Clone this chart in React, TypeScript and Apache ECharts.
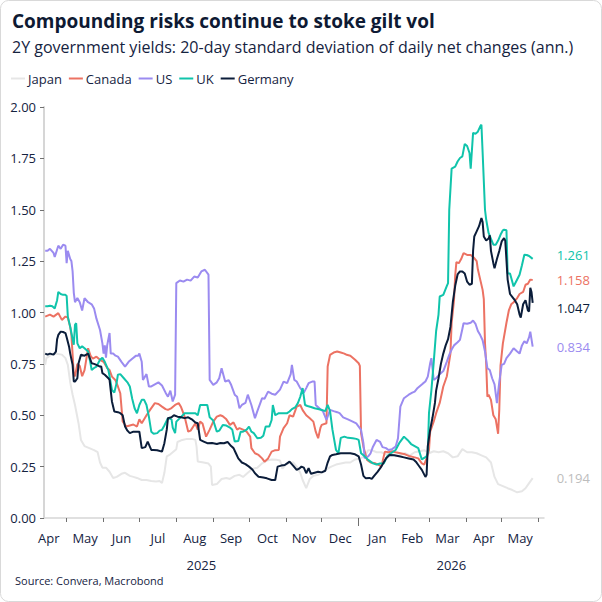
import React, { useEffect, useRef } from "react";
import * as echarts from "echarts";

// x values: days since 1 Apr 2025; y values: annualised 20-day std dev
const JAPAN: [number, number][] = [[12,0.745],[13,0.778],[16,0.79],[20,0.80],[26,0.795],[29,0.778],[31,0.745],[33,0.66],[35,0.60],[37,0.55],[40,0.46],[42,0.38],[45,0.35],[49,0.34],[53,0.33],[56,0.32],[58,0.27],[60,0.245],[63,0.245],[66,0.225],[69,0.195],[72,0.2],[76,0.215],[79,0.22],[83,0.205],[86,0.2],[89,0.195],[93,0.185],[97,0.185],[101,0.18],[105,0.178],[108,0.18],[110,0.17],[112,0.22],[114,0.3],[117,0.31],[120,0.325],[122,0.335],[123,0.37],[127,0.38],[131,0.385],[135,0.385],[138,0.38],[139,0.347],[140,0.275],[145,0.27],[149,0.265],[151,0.25],[152,0.161],[156,0.165],[160,0.19],[164,0.195],[167,0.19],[171,0.205],[175,0.21],[178,0.2],[182,0.22],[186,0.24],[190,0.245],[194,0.266],[198,0.28],[202,0.285],[206,0.283],[209,0.28],[211,0.24],[214,0.26],[217,0.27],[220,0.27],[223,0.25],[226,0.22],[228,0.185],[231,0.145],[234,0.19],[237,0.205],[241,0.21],[245,0.225],[249,0.24],[252,0.25],[256,0.26],[260,0.265],[264,0.27],[268,0.27],[272,0.285],[276,0.29],[280,0.3],[283,0.33],[286,0.33],[290,0.32],[294,0.32],[298,0.31],[302,0.315],[306,0.30],[310,0.305],[314,0.315],[318,0.305],[322,0.32],[326,0.325],[330,0.33],[334,0.315],[338,0.325],[342,0.32],[346,0.325],[350,0.315],[354,0.295],[358,0.3],[362,0.335],[366,0.32],[370,0.32],[374,0.315],[378,0.305],[382,0.295],[386,0.27],[389,0.2],[392,0.165],[396,0.155],[400,0.145],[404,0.136],[408,0.125],[412,0.13],[415,0.145],[418,0.17],[421,0.194]];

const CANADA: [number, number][] = [[12,0.98],[14,0.985],[16,0.99],[19,0.98],[23,0.997],[26,0.964],[29,0.98],[31,0.975],[33,0.93],[34,0.89],[36,0.70],[37,0.69],[39,0.75],[41,0.74],[43,0.69],[45,0.72],[48,0.826],[50,0.79],[52,0.775],[55,0.785],[58,0.77],[61,0.76],[64,0.73],[66,0.72],[68,0.688],[71,0.67],[73,0.64],[75,0.607],[77,0.47],[80,0.445],[83,0.45],[86,0.455],[89,0.445],[91,0.48],[93,0.461],[97,0.50],[100,0.526],[104,0.559],[107,0.555],[110,0.542],[113,0.53],[115,0.526],[118,0.535],[121,0.55],[124,0.559],[126,0.54],[129,0.493],[132,0.42],[134,0.425],[138,0.461],[140,0.43],[142,0.469],[144,0.46],[147,0.396],[150,0.43],[153,0.469],[156,0.493],[159,0.50],[161,0.495],[164,0.48],[167,0.453],[170,0.465],[173,0.43],[175,0.437],[178,0.43],[181,0.42],[184,0.396],[185,0.34],[188,0.315],[191,0.307],[194,0.29],[196,0.274],[199,0.29],[202,0.323],[205,0.33],[208,0.331],[209,0.396],[212,0.437],[215,0.461],[217,0.50],[220,0.493],[223,0.542],[226,0.55],[228,0.525],[231,0.50],[234,0.485],[237,0.469],[239,0.42],[241,0.388],[243,0.44],[244,0.453],[248,0.461],[249,0.737],[251,0.794],[254,0.805],[257,0.81],[260,0.805],[263,0.80],[265,0.794],[268,0.79],[270,0.78],[272,0.77],[275,0.753],[276,0.74],[277,0.413],[279,0.347],[282,0.283],[285,0.27],[289,0.266],[292,0.258],[294,0.25],[297,0.323],[300,0.32],[303,0.325],[306,0.32],[310,0.315],[314,0.31],[318,0.30],[322,0.295],[325,0.29],[328,0.266],[330,0.26],[332,0.29],[334,0.33],[335,0.42],[338,0.47],[340,0.51],[343,0.56],[346,0.64],[349,0.69],[352,0.80],[353,0.95],[355,1.06],[356,1.18],[357,1.245],[359,1.24],[361,1.26],[363,1.289],[366,1.28],[369,1.28],[372,1.265],[374,1.25],[375,1.21],[377,1.16],[379,1.11],[380,1.065],[381,0.85],[382,0.75],[383,0.59],[384,0.60],[386,0.575],[388,0.50],[390,0.48],[392,0.41],[393,0.53],[394,0.74],[396,0.85],[399,0.95],[401,1.01],[403,1.04],[405,1.05],[408,1.07],[410,1.09],[413,1.10],[415,1.135],[417,1.14],[419,1.16],[421,1.158]];

const US: [number, number][] = [[12,1.30],[14,1.30],[16,1.31],[19,1.29],[20,1.27],[23,1.325],[25,1.31],[27,1.33],[29,1.325],[30,1.24],[31,1.30],[33,1.26],[34,1.25],[35,1.20],[36,1.096],[37,1.05],[39,1.07],[41,1.05],[43,1.01],[45,1.07],[48,1.05],[51,1.04],[53,1.02],[55,0.97],[58,0.915],[60,0.85],[61,0.80],[62,0.84],[63,0.78],[64,0.84],[66,0.90],[67,0.80],[69,0.80],[71,0.79],[73,0.785],[76,0.76],[79,0.737],[82,0.76],[85,0.775],[88,0.789],[90,0.79],[91,0.80],[93,0.76],[94,0.672],[97,0.70],[99,0.64],[101,0.64],[104,0.65],[107,0.66],[110,0.645],[113,0.61],[115,0.59],[117,0.62],[119,0.567],[121,0.60],[122,1.143],[125,1.156],[128,1.15],[131,1.16],[134,1.155],[137,1.175],[140,1.17],[143,1.20],[146,1.208],[149,1.184],[150,0.672],[153,0.648],[156,0.66],[158,0.68],[160,0.729],[163,0.664],[166,0.67],[168,0.648],[171,0.60],[173,0.59],[175,0.534],[177,0.55],[180,0.56],[182,0.60],[185,0.55],[188,0.486],[190,0.52],[194,0.583],[196,0.58],[199,0.615],[202,0.605],[205,0.60],[209,0.625],[212,0.664],[215,0.656],[218,0.70],[219,0.745],[221,0.672],[223,0.664],[226,0.632],[229,0.61],[231,0.632],[233,0.656],[236,0.664],[238,0.664],[239,0.55],[242,0.534],[245,0.52],[248,0.477],[251,0.526],[254,0.52],[257,0.515],[259,0.51],[262,0.49],[266,0.48],[270,0.469],[273,0.46],[275,0.445],[277,0.429],[279,0.364],[280,0.291],[283,0.30],[285,0.315],[287,0.347],[290,0.38],[293,0.37],[295,0.345],[298,0.34],[300,0.331],[303,0.335],[306,0.347],[308,0.388],[310,0.542],[313,0.583],[317,0.60],[320,0.61],[322,0.615],[324,0.63],[326,0.64],[329,0.655],[331,0.664],[333,0.688],[335,0.753],[336,0.778],[338,0.672],[340,0.68],[343,0.70],[346,0.715],[349,0.761],[351,0.794],[353,0.82],[355,0.84],[358,0.855],[360,0.867],[362,0.92],[363,0.948],[366,0.945],[369,0.95],[371,0.961],[373,0.945],[375,0.91],[377,0.89],[379,0.865],[381,0.81],[383,0.729],[385,0.72],[387,0.68],[389,0.65],[391,0.559],[393,0.664],[395,0.745],[397,0.75],[399,0.778],[402,0.80],[405,0.826],[408,0.81],[410,0.80],[412,0.84],[414,0.86],[416,0.85],[418,0.88],[419,0.907],[421,0.834]];

const UK: [number, number][] = [[12,1.03],[14,1.03],[16,1.033],[18,1.03],[20,1.02],[22,1.06],[23,1.10],[25,1.09],[27,1.086],[29,1.086],[30,1.08],[31,0.98],[33,0.93],[34,0.90],[35,0.87],[36,0.843],[37,0.94],[38,0.948],[39,0.85],[41,0.826],[43,0.835],[45,0.826],[48,0.81],[50,0.753],[51,0.72],[53,0.73],[55,0.737],[58,0.77],[60,0.78],[62,0.76],[65,0.72],[66,0.69],[68,0.623],[70,0.61],[72,0.66],[73,0.697],[75,0.70],[78,0.68],[81,0.66],[83,0.64],[85,0.58],[87,0.534],[89,0.51],[91,0.55],[93,0.575],[95,0.575],[97,0.55],[99,0.493],[101,0.42],[103,0.41],[106,0.413],[108,0.425],[110,0.429],[112,0.45],[115,0.486],[118,0.48],[119,0.44],[121,0.413],[122,0.469],[125,0.486],[129,0.51],[132,0.51],[135,0.51],[138,0.51],[140,0.50],[142,0.55],[144,0.55],[146,0.55],[148,0.55],[150,0.49],[153,0.475],[156,0.42],[158,0.425],[161,0.453],[164,0.45],[167,0.44],[169,0.429],[171,0.372],[174,0.375],[176,0.42],[178,0.42],[181,0.43],[183,0.445],[185,0.42],[187,0.413],[190,0.388],[193,0.39],[195,0.40],[197,0.445],[200,0.445],[202,0.477],[203,0.55],[205,0.50],[208,0.51],[212,0.51],[215,0.51],[217,0.518],[219,0.53],[222,0.54],[224,0.559],[226,0.59],[228,0.632],[230,0.55],[232,0.545],[235,0.54],[238,0.534],[241,0.53],[244,0.526],[247,0.52],[249,0.55],[251,0.52],[253,0.43],[256,0.331],[258,0.315],[260,0.39],[263,0.396],[266,0.39],[270,0.388],[273,0.385],[275,0.38],[277,0.315],[280,0.30],[283,0.283],[287,0.266],[290,0.26],[293,0.265],[296,0.265],[299,0.30],[302,0.315],[306,0.331],[309,0.364],[311,0.38],[313,0.396],[316,0.38],[319,0.36],[322,0.35],[325,0.34],[328,0.285],[332,0.30],[333,0.32],[334,0.51],[336,0.62],[338,0.76],[340,0.91],[342,0.99],[343,1.078],[346,1.086],[349,1.13],[350,1.143],[351,1.50],[353,1.70],[356,1.71],[358,1.735],[360,1.752],[362,1.76],[364,1.82],[366,1.81],[368,1.776],[369,1.70],[371,1.874],[373,1.87],[375,1.88],[377,1.906],[378,1.914],[379,1.78],[381,1.50],[382,1.452],[384,1.387],[388,1.33],[390,1.33],[392,1.35],[394,1.378],[396,1.40],[397,1.403],[399,1.40],[400,1.19],[402,1.19],[405,1.127],[407,1.15],[410,1.184],[412,1.23],[414,1.281],[416,1.28],[418,1.275],[421,1.261]];

const GERMANY: [number, number][] = [[12,0.80],[14,0.795],[16,0.80],[19,0.795],[21,0.81],[22,0.87],[23,0.891],[25,0.907],[27,0.905],[29,0.90],[30,0.88],[32,0.835],[33,0.80],[35,0.745],[36,0.664],[37,0.664],[39,0.68],[40,0.753],[42,0.794],[45,0.79],[48,0.80],[50,0.77],[51,0.753],[53,0.75],[55,0.745],[58,0.737],[59,0.737],[60,0.705],[62,0.697],[65,0.68],[66,0.672],[68,0.567],[70,0.518],[73,0.515],[75,0.51],[77,0.50],[79,0.445],[81,0.425],[83,0.413],[86,0.42],[88,0.42],[91,0.42],[93,0.34],[96,0.345],[98,0.372],[101,0.331],[103,0.331],[106,0.33],[110,0.323],[112,0.364],[114,0.43],[115,0.486],[118,0.49],[120,0.50],[123,0.493],[126,0.49],[129,0.486],[132,0.49],[135,0.48],[138,0.465],[140,0.461],[142,0.38],[145,0.372],[148,0.364],[152,0.365],[156,0.36],[159,0.365],[162,0.364],[165,0.37],[168,0.35],[170,0.34],[172,0.315],[174,0.29],[177,0.27],[180,0.262],[183,0.25],[186,0.235],[188,0.218],[191,0.201],[195,0.197],[198,0.193],[202,0.185],[205,0.185],[207,0.25],[210,0.255],[213,0.258],[215,0.266],[217,0.274],[220,0.255],[223,0.234],[225,0.24],[227,0.25],[229,0.245],[231,0.218],[233,0.242],[235,0.215],[238,0.22],[241,0.225],[244,0.222],[247,0.23],[249,0.27],[251,0.30],[253,0.307],[256,0.31],[260,0.315],[264,0.315],[268,0.315],[272,0.31],[275,0.30],[277,0.26],[279,0.205],[281,0.193],[284,0.195],[286,0.19],[288,0.205],[291,0.226],[294,0.25],[298,0.291],[301,0.307],[305,0.305],[309,0.30],[313,0.295],[317,0.29],[321,0.285],[323,0.274],[325,0.258],[328,0.234],[331,0.2],[332,0.21],[333,0.35],[335,0.43],[337,0.49],[339,0.56],[340,0.62],[342,0.68],[344,0.75],[346,0.80],[348,0.84],[350,0.87],[352,0.93],[354,1.05],[356,1.13],[358,1.185],[360,1.20],[362,1.20],[364,1.19],[366,1.15],[368,1.135],[370,1.14],[371,1.30],[372,1.37],[374,1.395],[376,1.42],[378,1.46],[379,1.44],[380,1.37],[382,1.35],[384,1.36],[385,1.375],[386,1.30],[388,1.24],[389,1.215],[391,1.26],[393,1.30],[395,1.346],[397,1.362],[398,1.35],[400,1.16],[402,1.09],[404,1.075],[406,1.06],[408,1.04],[410,0.99],[411,0.975],[413,1.04],[415,1.06],[417,1.01],[418,1.005],[419,1.12],[420,1.10],[421,1.047]];

const SERIES_NAMES = ["Japan", "Canada", "US", "UK", "Germany"];
const MONTH_NAMES = ["Apr", "May", "Jun", "Jul", "Aug", "Sep", "Oct", "Nov", "Dec", "Jan", "Feb", "Mar", "Apr", "May"];
// month boundaries (days since 1 Apr 2025)
const MONTH_STARTS = [0, 30, 61, 91, 122, 153, 183, 214, 244, 275, 306, 334, 365, 395, 426];
const YEAR_LABELS = ["2025", "2026"];
const Y_TICKS = [0, 0.25, 0.5, 0.75, 1.0, 1.25, 1.5, 1.75, 2.0];

const X_MIN = 11;
const X_MAX = 430.5;

const COLORS = ["#e6e6e6", "#ec7263", "#9b8bf0", "#10c4ab", "#0b1d3a"];
const LABEL_COLORS = ["#bdbdbd", "#ec7263", "#9b8bf0", "#10c4ab", "#0b1d3a"];
const LABEL_OFFSETS: [number, number][] = [[0, 0], [0, 0], [0, 0], [0, -4], [0, 5]];

const FONT = "'Open Sans', 'Noto Sans', sans-serif";
const TEXT = "#15233f";

export default function App() {
  const ref = useRef<HTMLDivElement>(null);
  useEffect(() => {
    if (!ref.current) return;
    const chart = echarts.init(ref.current, undefined, { renderer: "svg" });
    const datasets = [JAPAN, CANADA, US, UK, GERMANY];
    const mids = MONTH_STARTS.slice(0, -1).map((s, i) => (s + MONTH_STARTS[i + 1]) / 2);
    const jan = MONTH_STARTS[9];
    const yearCenters = [(X_MIN + jan) / 2, (jan + X_MAX) / 2];

    chart.setOption({
      animation: false,
      textStyle: { fontFamily: FONT },
      title: [
        { text: "Compounding risks continue to stoke gilt vol", left: 7, top: 6,
          textStyle: { fontSize: 19, fontWeight: "bold", color: "#0e1a33", fontFamily: FONT } },
        { text: "2Y government yields: 20-day standard deviation of daily net changes (ann.)", left: 7, top: 34,
          textStyle: { fontSize: 16, fontWeight: "normal", color: "#15233f", fontFamily: FONT } },
        { text: "Source: Convera, Macrobond", left: 10, top: 570,
          textStyle: { fontSize: 11, fontWeight: "normal", color: "#15233f", fontFamily: FONT } },
      ],
      legend: {
        data: SERIES_NAMES,
        left: 6, top: 67,
        icon: "rect", itemWidth: 14, itemHeight: 2, itemGap: 7,
        textStyle: { fontSize: 13, color: TEXT, fontFamily: FONT, padding: [0, 0, 0, -2] },
      },
      grid: { left: 44, right: 58, top: 107, bottom: 84, containLabel: false },
      xAxis: [
        {
          type: "value", min: X_MIN, max: X_MAX,
          axisLine: { show: true, lineStyle: { color: "#d6d6d6", width: 1.5 } },
          axisTick: { show: true, customValues: MONTH_STARTS.filter((v) => v >= X_MIN && v <= X_MAX && v !== jan), length: 4, lineStyle: { color: "#707070" } },
          axisLabel: {
            customValues: mids,
            formatter: (v: number) => {
              const i = mids.findIndex((m) => Math.abs(m - v) < 0.01);
              return i >= 0 ? MONTH_NAMES[i] : "";
            },
            fontSize: 13, color: TEXT, margin: 13, fontFamily: FONT,
          },
          splitLine: { show: false },
        },
        {
          type: "value", min: X_MIN, max: X_MAX, position: "bottom", offset: 27,
          axisLine: { show: false }, axisTick: { show: false },
          axisLabel: {
            customValues: yearCenters,
            formatter: (v: number) => {
              const i = yearCenters.findIndex((m) => Math.abs(m - v) < 0.01);
              return i >= 0 ? YEAR_LABELS[i] : "";
            },
            fontSize: 13, color: TEXT, margin: 13, fontFamily: FONT,
          },
          splitLine: { show: false },
        },
        {
          type: "value", min: X_MIN, max: X_MAX, position: "bottom", offset: 0,
          axisLine: { show: false },
          axisTick: { show: true, customValues: [jan], length: 8, lineStyle: { color: "#707070" } },
          axisLabel: { show: false },
          splitLine: { show: false },
        },
      ],
      yAxis: {
        type: "value", min: 0, max: 2, interval: 0.25,
        axisLine: { show: true, lineStyle: { color: "#d6d6d6", width: 2 } },
        axisTick: { show: true, length: 4, lineStyle: { color: "#707070" } },
        axisLabel: {
          formatter: (v: number) => (Y_TICKS.includes(v) ? v.toFixed(2) : ""),
          fontSize: 13, color: TEXT, margin: 8, fontFamily: FONT,
        },
        splitLine: { show: false },
      },
      series: SERIES_NAMES.map((name, i) => ({
        name, type: "line", xAxisIndex: 0, showSymbol: false, symbol: "none",
        data: datasets[i],
        lineStyle: { width: 2, color: COLORS[i] },
        itemStyle: { color: COLORS[i] },
        z: 2 + i,
        endLabel: {
          show: true, distance: 24, offset: LABEL_OFFSETS[i],
          formatter: (p: any) => Number(p.value[1]).toFixed(3),
          color: LABEL_COLORS[i], fontSize: 13, fontFamily: FONT,
        },
      })),
      graphic: [
        { type: "rect", shape: { x: 0.5, y: 0.5, width: 601, height: 601, r: 8 },
          style: { fill: "none", stroke: "#d9d9d9", lineWidth: 1 }, silent: true, z: -1 },
      ],
    });
    return () => chart.dispose();
  }, []);
  return <div ref={ref} style={{ position: "absolute", left: 0, top: 0, width: 602, height: 602 }} />;
}
